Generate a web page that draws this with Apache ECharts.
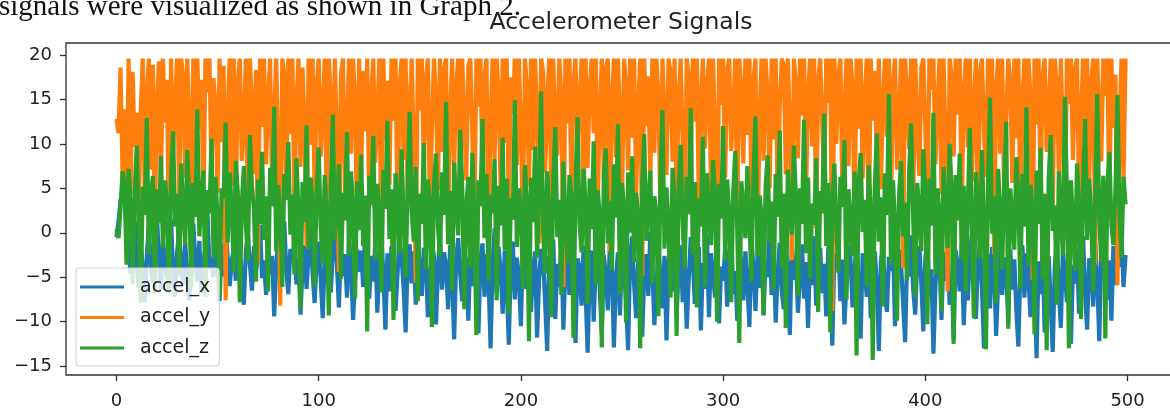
<!DOCTYPE html>
<html>
<head>
<meta charset="utf-8">
<title>Accelerometer Signals</title>
<script src="https://cdn.jsdelivr.net/npm/echarts@6/dist/echarts.min.js"></script>
<style>
  html, body { margin: 0; padding: 0; background: #fff; }
  #chart { width: 1170px; height: 409px; }
</style>
</head>
<body>
<div id="chart"></div>
<script>
// data (500 samples each, index = sample number)
var seriesNames = ['accel_x', 'accel_y', 'accel_z'];
var xTicks = [0, 100, 200, 300, 400, 500];
var yTicks = [-15, -10, -5, 0, 5, 10, 15, 20];

var accelX = [
  -0.5,1.2,3.6,5.0,4.8,0.2,-1.8,-4.6,-2.1,1.4,-3.3,-6.2,-1.0,-4.1,-7.8,-2.6,0.8,-3.9,-5.7,-1.4,2.1,-2.9,-6.4,-0.7,-3.5,
  -5.2,-1.9,1.5,-4.4,-7.2,-2.2,0.3,-3.7,-5.9,-1.1,-4.8,-7.6,-2.5,1.0,-3.0,-5.5,-0.9,-6.8,-3.4,-1.6,2.4,-4.0,-2.7,-5.0,-0.4,
  -3.8,-7.7,-1.3,-4.9,0.6,-2.8,-6.0,-3.2,-1.7,-5.4,1.8,-2.4,-4.5,-8.1,-2.0,-0.2,-3.6,-6.5,-1.5,-4.2,-2.3,0.9,-5.1,-3.1,-7.0,
  -1.2,-4.7,-2.6,-9.4,-3.9,-0.6,-5.6,-2.1,1.3,-4.3,-6.9,-1.8,-3.3,-0.8,-5.8,-2.9,-9.2,-4.0,-1.4,-6.3,-2.5,0.4,-4.6,-7.9,-3.0,
  -1.0,-5.3,-9.6,-2.7,-0.3,-4.1,-6.7,-2.2,1.6,-3.5,-8.4,-1.6,-4.9,-2.4,-7.3,-0.5,-3.8,-9.8,-5.1,-1.9,-4.4,-2.0,-6.1,0.7,-3.2,
  -7.4,-2.6,-5.5,-1.1,-9.0,-3.6,-0.1,-4.8,-10.9,-2.3,-6.6,-1.5,-3.9,-8.8,-4.6,-0.7,-2.8,-6.2,-11.2,-3.4,-1.3,-5.7,-2.1,-8.1,-0.4,
  -4.3,-7.1,-1.7,-3.0,-9.5,-5.4,-1.0,-2.7,-10.3,-4.0,0.2,-6.4,-2.2,-3.7,-8.6,-1.4,-5.2,-12.0,-2.9,-0.6,-4.7,-7.7,-1.9,-3.3,-9.9,
  -2.5,-6.0,-0.9,-4.1,-11.3,-3.1,-1.2,-7.2,-2.4,-5.0,-13.0,-3.6,0.5,-6.8,-1.6,-4.4,-9.1,-2.0,-5.8,-12.6,-3.8,-1.0,-7.5,-2.8,-4.9,
  -10.5,-1.4,-3.4,-6.3,-0.3,-8.9,-4.2,-2.1,-11.8,-5.3,-1.8,-3.0,-7.9,-13.3,-2.6,-4.6,-0.8,-9.7,-3.5,-6.1,-1.2,-10.9,-4.0,-2.3,-7.0,
  -0.1,-5.5,-12.4,-2.9,-3.9,-8.2,-1.5,-6.7,-13.5,-4.4,-2.0,-10.0,-3.2,-0.7,-6.4,-11.4,-2.5,-4.8,-8.7,-1.1,-3.7,-12.9,-5.1,-2.2,-9.3,
  -1.7,-4.3,-7.4,-13.2,-2.8,-0.4,-5.9,-9.6,-3.3,-1.3,-11.7,-4.5,-2.4,-7.1,0.1,-3.9,-10.4,-6.0,-1.9,-4.7,-8.5,-2.6,-12.1,-3.5,-0.9,
  -6.6,-2.0,-9.1,-4.1,-1.4,-7.8,-3.0,-10.8,-5.2,-0.5,-2.9,-8.0,-4.9,-1.6,-11.0,-3.4,-6.3,-0.2,-9.5,-2.3,-4.6,-7.3,-1.0,-10.2,-3.8,
  -5.4,-1.8,-8.3,-2.7,0.3,-6.9,-4.3,-9.9,-1.2,-3.6,-7.6,-2.1,-5.7,-10.6,-0.6,-4.0,-8.8,-2.5,-6.2,-1.5,-9.3,-3.1,-5.0,0.6,-7.0,
  -2.8,-10.1,-4.4,-1.1,-6.5,-8.6,-2.2,-3.9,-11.5,-0.8,-5.3,-2.6,-9.0,-4.7,-1.3,-7.4,-3.3,-10.7,-2.0,-5.9,-0.4,-8.2,-4.2,-1.7,-6.8,
  -3.5,-9.4,-1.6,-5.1,-12.7,-2.4,-4.0,-0.9,-7.7,-3.0,-10.3,-5.6,-1.4,-2.9,-8.4,-4.5,-0.7,-6.1,-11.9,-2.3,-3.8,-7.2,-1.0,-9.6,-4.8,
  -2.1,-5.8,-13.3,-3.4,-1.2,-6.7,-8.9,-2.7,-4.3,-0.6,-10.5,-5.0,-1.9,-3.6,-7.9,-12.3,-2.5,-4.9,-0.3,-6.4,-9.2,-3.1,-1.5,-5.5,-11.1,
  -2.9,-0.8,-7.1,-4.1,-13.6,-6.0,-1.8,-3.2,-9.8,-2.2,-5.4,-0.5,-8.1,-4.6,-12.0,-2.0,-3.7,-6.6,-1.3,-10.4,-4.4,-7.6,-2.6,-0.2,-5.9,
  -9.7,-3.3,-1.1,-6.2,-13.0,-4.8,-2.4,-8.5,-1.6,-3.9,-11.6,-5.6,-0.7,-7.0,-2.8,-4.3,-10.1,-1.9,-6.4,-3.0,-8.8,-12.8,-4.0,-1.4,-7.3,
  -2.3,-5.1,-9.5,-0.9,-4.7,-14.1,-3.2,-6.9,-1.7,-11.2,-5.3,-2.6,-8.0,-13.4,-3.8,-0.6,-6.3,-10.7,-2.1,-4.5,-7.8,-1.2,-12.5,-3.6,-5.7,
  -1.8,-9.1,-4.2,-0.4,-6.8,-10.9,-2.9,-3.5,-8.3,-1.1,-5.2,-12.2,-2.4,-4.6,-0.8,-7.5,-3.1,-9.9,-1.5,-5.9,-2.7,-3.8,-0.3,-6.1,-2.5
];

var accelY = [
  12.8,11.2,18.6,6.5,13.9,2.1,19.6,4.3,18.1,9.7,13.5,1.2,13.6,19.6,3.8,15.7,19.6,7.1,18.9,0.4,14.3,19.3,5.6,19.6,12.4,
  17.2,-2.3,19.6,8.8,14.9,19.6,3.1,19.6,17.6,6.2,19.6,13.1,-5.1,19.6,8.4,19.6,11.6,17.2,2.7,19.6,15.8,19.6,6.9,17.4,14.1,
  4.5,19.6,10.2,18.8,-7.6,13.4,19.6,5.3,19.6,2.6,16.9,19.6,8.1,12.7,19.6,0.9,19.6,14.4,6.6,18.3,-3.4,19.6,11.9,19.6,7.7,
  15.1,19.6,3.6,13.2,19.6,9.4,-8.2,19.6,17.8,5.1,19.6,11.1,19.6,2.3,14.6,19.6,7.4,18.6,12.2,-1.6,19.6,9.9,19.6,4.1,16.4,
  19.6,8.6,13.7,19.6,1.8,19.6,15.2,6.1,19.6,10.6,-4.4,17.9,19.6,3.4,12.1,19.6,8.9,19.6,14.8,0.6,19.6,6.3,18.2,11.4,19.6,
  2.9,15.6,19.6,7.9,13.3,19.6,-2.9,19.6,10.4,17.1,5.4,19.6,12.6,19.6,1.4,16.2,19.6,8.2,19.6,3.9,14.1,19.6,9.6,-5.6,19.6,
  13.8,19.6,6.7,17.3,19.6,2.4,11.7,19.6,15.4,4.8,19.6,9.1,18.4,19.6,0.2,13.1,19.6,7.2,16.6,19.6,3.3,19.6,12.9,5.9,18.7,
  19.6,10.9,1.1,19.6,14.2,19.6,6.4,17.7,19.6,-3.7,12.4,19.6,8.3,19.6,15.9,4.6,19.6,10.1,19.6,2.2,17.5,13.4,19.6,7.6,19.6,
  11.3,0.8,19.6,16.3,5.2,19.6,9.3,19.6,13.9,-1.2,19.6,18.1,6.8,14.7,19.6,3.5,19.6,11.8,8.7,19.6,15.3,-6.1,19.6,12.3,19.6,
  4.2,17.0,19.6,9.8,14.5,19.6,1.6,19.6,7.3,16.1,19.6,11.2,19.6,3.2,13.6,19.6,6.0,18.5,19.6,-2.1,15.0,19.6,8.5,19.6,12.8,
  2.5,19.6,16.8,7.0,19.6,10.7,19.6,4.4,14.0,19.6,-4.9,19.6,12.0,17.6,5.7,19.6,9.0,19.6,15.5,1.9,19.6,13.0,6.5,19.6,18.0,
  8.0,19.6,3.0,15.1,19.6,10.3,-0.5,19.6,17.4,6.9,19.6,12.5,19.6,2.8,14.9,19.6,9.5,16.5,19.6,4.7,19.6,11.5,-7.4,19.6,14.4,
  19.6,6.2,18.3,19.6,9.2,13.5,19.6,1.3,19.6,16.0,7.8,19.6,11.0,19.6,3.7,17.2,19.6,-2.6,12.7,19.6,8.1,19.6,15.7,5.0,19.6,
  10.5,19.6,2.0,14.3,19.6,18.8,6.6,19.6,11.9,-3.1,19.6,16.7,8.4,19.6,13.2,19.6,4.0,15.8,19.6,9.7,19.6,0.5,17.3,19.6,12.1,
  5.5,19.6,14.6,19.6,-8.8,19.6,10.0,17.9,19.6,3.6,13.8,19.6,7.5,19.6,16.4,1.0,19.6,11.7,19.6,6.1,15.2,19.6,-1.9,19.6,12.6,
  18.2,8.8,19.6,4.9,14.7,19.6,10.8,19.6,2.6,17.0,19.6,7.1,13.0,19.6,-4.0,19.6,15.6,9.4,19.6,3.1,19.6,12.4,6.4,18.6,19.6,
  11.4,1.5,19.6,16.1,19.6,7.7,14.0,19.6,4.3,19.6,10.2,-6.6,19.6,17.7,8.6,19.6,13.3,19.6,2.1,15.9,19.6,9.6,19.6,5.8,14.2,
  19.6,0.1,18.0,19.6,11.1,6.3,19.6,13.7,19.6,-2.4,16.3,19.6,8.9,19.6,3.4,12.8,19.6,17.1,5.6,19.6,10.6,19.6,1.7,14.8,19.6,
  7.4,19.6,15.3,-5.3,19.6,12.2,19.6,4.6,17.6,19.6,9.1,13.6,19.6,2.4,19.6,16.6,6.8,19.6,11.3,-0.9,19.6,14.5,19.6,8.2,18.4,
  19.6,3.8,13.1,19.6,10.4,19.6,5.2,16.9,19.6,-3.6,19.6,12.9,8.0,19.6,15.4,19.6,2.9,19.6,11.8,17.8,-5.9,12.0,19.6,6.0,19.6
];

var accelZ = [
  0.4,-0.6,2.7,6.9,5.5,-3.6,7.2,3.1,-5.8,4.6,9.8,1.3,-7.9,5.2,2.0,12.9,-2.4,3.8,6.4,-6.8,4.9,1.1,8.6,-1.7,5.9,
  3.3,-6.5,6.1,11.4,0.7,4.4,-4.9,7.8,2.5,-1.4,9.3,4.0,-6.2,5.6,1.8,13.9,-0.4,3.6,7.0,-7.2,4.8,2.2,10.6,-2.9,6.3,
  1.5,-7.1,5.0,3.9,12.4,-1.1,6.8,2.9,-4.4,8.1,4.6,-7.8,3.4,7.5,0.9,-3.2,11.0,5.3,2.6,-5.5,6.0,1.0,9.1,-0.8,4.1,
  -6.6,7.3,3.0,14.2,-2.1,5.4,1.7,-6.1,6.6,3.7,10.2,-0.2,4.3,-4.7,8.4,2.4,-8.6,5.7,1.2,12.1,-1.9,6.2,3.5,-6.0,4.7,
  9.6,0.5,-3.5,6.5,2.1,-9.3,5.1,13.3,-0.9,3.2,7.7,-5.2,4.5,1.4,11.3,-2.6,6.9,2.8,-7.4,5.8,0.3,8.8,-1.5,4.2,-11.1,
  6.4,3.1,10.9,-3.0,5.5,1.9,-6.7,7.1,2.7,12.6,-0.7,4.9,-9.8,6.7,3.8,-2.3,9.4,1.6,-5.0,5.2,13.6,2.3,-1.0,7.4,-7.7,
  4.4,1.0,10.1,-4.1,6.0,3.3,-10.6,5.5,8.9,0.6,-2.7,6.8,2.0,14.7,-1.3,4.7,-6.5,7.9,3.6,-0.3,11.6,5.0,-8.6,2.9,6.3,
  -3.9,9.0,1.8,-11.5,5.9,3.0,12.8,-0.6,6.6,-5.4,4.3,2.2,8.3,-7.6,5.3,0.8,10.7,-2.0,6.1,-9.1,3.9,1.5,14.9,-1.6,5.0,
  2.6,-6.3,7.6,3.4,-12.2,6.2,1.2,9.7,-2.8,4.6,15.9,0.2,-4.6,6.9,2.5,-9.5,5.7,11.9,-0.5,3.7,-7.0,8.0,1.3,-3.4,6.5,
  4.0,-11.8,5.3,13.0,1.0,-2.2,7.2,3.2,-8.0,6.1,0.4,10.3,-5.8,4.8,2.0,-12.9,6.4,9.5,-1.2,3.6,-4.2,7.7,1.7,12.2,-6.9,
  5.6,2.8,-10.1,6.8,0.0,8.6,-3.3,4.5,1.9,-13.0,5.4,11.1,-0.9,3.1,7.0,-5.7,4.1,2.3,-9.4,6.0,13.8,-1.8,5.1,0.6,-7.3,
  7.3,3.5,-11.6,4.9,9.9,1.1,-4.0,6.3,2.1,14.0,-2.4,5.7,-8.4,3.9,0.7,10.8,-6.1,6.7,2.6,-1.4,8.2,4.3,-10.0,5.5,1.6,
  12.0,-3.1,6.0,2.4,-7.8,4.6,9.2,0.3,-12.4,5.8,3.0,-0.6,7.5,1.4,-5.5,6.4,13.1,-2.7,4.2,2.0,-9.2,5.2,8.7,-1.1,3.5,
  -6.4,6.6,1.8,11.5,-3.9,4.4,-10.7,7.1,2.7,-0.2,9.8,3.8,-7.1,5.0,1.0,12.7,-2.3,6.2,-5.1,3.3,0.9,8.4,-8.9,4.7,2.2,
  13.4,-1.5,5.6,-11.2,3.2,7.8,0.5,-4.5,6.3,2.9,10.4,-7.5,4.9,1.5,-2.6,6.9,-13.8,5.4,9.0,0.1,3.7,-6.0,7.6,2.4,-14.3,
  5.1,11.2,-1.0,4.0,-8.3,6.7,2.0,15.6,-3.6,5.9,1.2,-9.9,4.3,8.1,-0.4,3.4,-5.3,7.0,12.3,1.7,-7.2,5.6,2.5,-2.1,9.4,
  4.6,-10.3,6.1,0.8,13.5,-4.7,5.0,2.2,-8.8,7.4,3.1,-1.7,10.0,4.8,-12.5,6.5,1.4,8.9,-3.0,5.3,-6.6,2.7,11.8,0.4,-9.6,
  6.8,3.6,-2.9,9.3,1.1,-13.1,5.7,15.2,-0.1,4.2,-7.9,7.2,2.3,-4.1,6.0,12.5,-10.8,5.0,1.8,-1.9,8.5,3.9,-6.3,6.6,0.7,
  14.1,-3.7,5.4,2.6,-11.4,7.0,1.0,9.6,-5.2,4.4,-13.2,6.2,11.0,0.2,3.1,-8.1,6.9,2.0,-2.5,15.3,4.5,-13.0,5.9,1.3,-4.3,
  7.8,3.0,-9.7,5.5,12.8,-0.8,6.1,2.4,-6.6,4.0,15.6,1.5,-3.3,6.4,-11.9,5.2,9.1,0.9,-1.4,4.8,15.5,2.2,-2.8,6.3,3.2
];

var colors = ['#1f77b4', '#ff7f0e', '#2ca02c'];

function pairs(arr) {
  return arr.map(function (v, i) { return [i, v]; });
}

function minus(v) {
  return String(v).replace('-', '\u2212');
}

var chartDom = document.getElementById('chart');
var myChart = echarts.init(chartDom, null, { renderer: 'canvas' });

var option = {
  animation: false,
  backgroundColor: '#fff',
  color: colors,
  textStyle: { fontFamily: 'DejaVu Sans' },
  graphic: [
    {
      // cut-off sentence above the figure
      type: 'text',
      left: -1,
      top: -7,
      style: {
        text: 'signals were visualized as shown in Graph 2.',
        font: '29px "Liberation Serif"',
        fill: '#111'
      }
    },
    {
      type: 'text',
      x: 621,
      y: 23,
      style: {
        text: 'Accelerometer Signals',
        font: '23.5px "DejaVu Sans"',
        fill: '#222',
        align: 'center',
        verticalAlign: 'middle'
      }
    }
  ],
  grid: {
    left: 66,
    top: 43,
    width: 1110,
    height: 332,
    outerBoundsMode: 'none',
    show: true,
    borderColor: '#333',
    borderWidth: 1.3,
    backgroundColor: 'transparent'
  },
  legend: {
    left: 76,
    top: 268,
    orient: 'vertical',
    icon: 'rect',
    itemWidth: 44,
    itemHeight: 3,
    itemGap: 10.5,
    padding: [9, 9, 8, 4],
    backgroundColor: 'rgba(255,255,255,0.8)',
    borderColor: '#d0d0d0',
    borderWidth: 1,
    borderRadius: 3,
    textStyle: {
      fontSize: 19,
      fontFamily: 'DejaVu Sans',
      color: '#222',
      lineHeight: 20,
      padding: [0, 0, 0, 11]
    },
    data: seriesNames
  },
  xAxis: {
    type: 'value',
    min: -24.95,
    max: 523.95,
    axisLine: { show: false, onZero: false },
    splitLine: { show: false },
    axisTick: {
      show: true,
      length: 6,
      customValues: xTicks,
      lineStyle: { color: '#333', width: 1.3 }
    },
    axisLabel: {
      customValues: xTicks,
      fontSize: 18,
      color: '#222',
      margin: 17
    }
  },
  yAxis: {
    type: 'value',
    min: -16.0,
    max: 21.35,
    axisLine: { show: false, onZero: false },
    splitLine: { show: false },
    axisTick: {
      show: true,
      length: 6,
      customValues: yTicks,
      lineStyle: { color: '#333', width: 1.3 }
    },
    axisLabel: {
      customValues: yTicks,
      fontSize: 18,
      color: '#222',
      margin: 14,
      formatter: minus
    }
  },
  series: [
    { name: seriesNames[0], type: 'line', data: pairs(accelX), showSymbol: false, lineStyle: { width: 4.2, color: colors[0] } },
    { name: seriesNames[1], type: 'line', data: pairs(accelY), showSymbol: false, lineStyle: { width: 4.2, color: colors[1] } },
    { name: seriesNames[2], type: 'line', data: pairs(accelZ), showSymbol: false, lineStyle: { width: 4.2, color: colors[2] } }
  ]
};

option && myChart.setOption(option);
</script>
</body>
</html>
